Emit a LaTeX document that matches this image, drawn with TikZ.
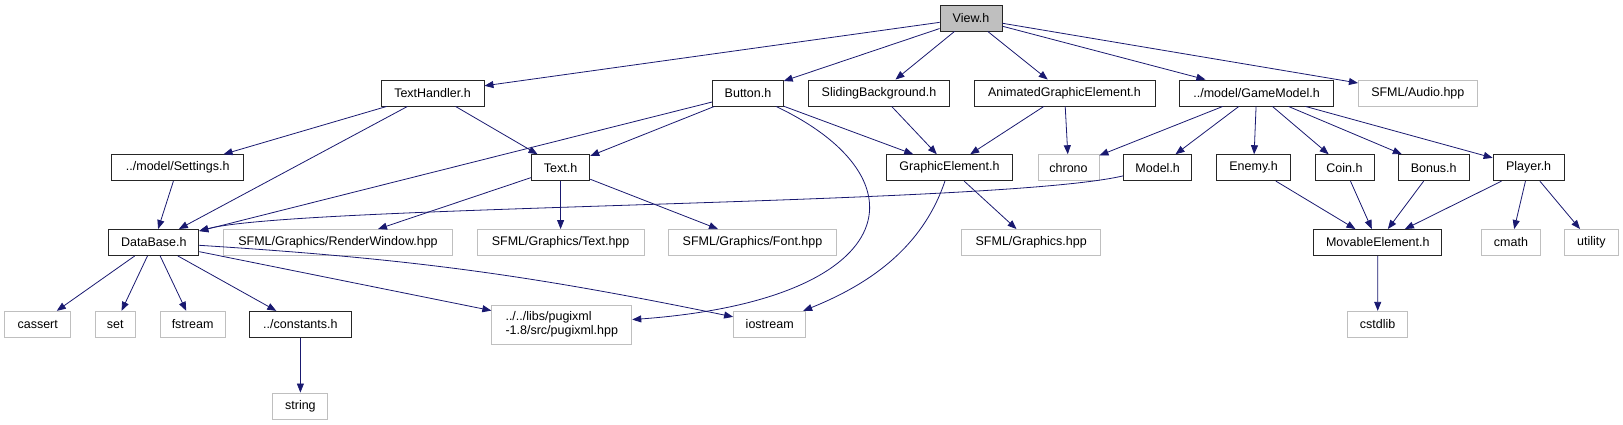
\documentclass[tikz,border=0pt]{standalone}
\usepackage{fontspec}
\setmainfont{Liberation Sans}
\usetikzlibrary{arrows.meta}
\definecolor{edgeblue}{HTML}{191970}
\definecolor{sysgray}{HTML}{BFBFBF}
\begin{document}
\begin{tikzpicture}[x=1pt, y=-1pt,
  box/.style={draw, line width=0.9pt, minimum height=26pt, inner sep=0pt,
    font=\fontsize{12.5}{14}\selectfont},
  hdr/.style={box, draw=black!85},
  sys/.style={box, draw=sysgray},
  dep/.style={draw=edgeblue, line width=0.8pt, -{Triangle[length=9pt, width=7pt]}}]
\useasboundingbox (0,0) rectangle (1623,425);
% Top
\node[hdr, fill=sysgray, minimum width=62pt] (view) at (971,18) {View.h};
% Row 2
\node[hdr, minimum width=103pt] (texthandler) at (432.5,93) {TextHandler.h};
\node[hdr, minimum width=70.5pt] (button) at (748,93) {Button.h};
\node[hdr, minimum width=141.4pt] (sliding) at (879,93) {SlidingBackground.h};
\node[hdr, minimum width=181pt] (animated) at (1064.5,93) {AnimatedGraphicElement.h};
\node[hdr, minimum width=154.4pt] (gamemodel) at (1256.6,93) {../model/GameModel.h};
\node[sys, minimum width=118.8pt] (audio) at (1417.8,93) {SFML/Audio.hpp};
% Row 3
\node[hdr, minimum width=132pt] (settings) at (177.7,167.7) {../model/Settings.h};
\node[hdr, minimum width=58.4pt] (text) at (560.6,167.7) {Text.h};
\node[hdr, minimum width=126.6pt] (graphicel) at (949.5,167.7) {GraphicElement.h};
\node[sys, minimum width=61pt] (chrono) at (1068.5,167.7) {chrono};
\node[hdr, minimum width=68pt] (model) at (1157.7,167.7) {Model.h};
\node[hdr, minimum width=74.5pt] (enemy) at (1253.6,167.7) {Enemy.h};
\node[hdr, minimum width=59pt] (coin) at (1344.5,167.7) {Coin.h};
\node[hdr, minimum width=71pt] (bonus) at (1433.7,167.7) {Bonus.h};
\node[hdr, minimum width=71pt] (player) at (1528.6,167.7) {Player.h};
% Row 4
\node[hdr, minimum width=90pt] (database) at (153.8,242.5) {DataBase.h};
\node[sys, minimum width=229pt] (renderwin) at (338,242.5) {SFML/Graphics/RenderWindow.hpp};
\node[sys, minimum width=167pt] (gtext) at (560.6,242.5) {SFML/Graphics/Text.hpp};
\node[sys, minimum width=167.7pt] (font) at (752.5,242.5) {SFML/Graphics/Font.hpp};
\node[sys, minimum width=139pt] (graphics) at (1031.2,242.5) {SFML/Graphics.hpp};
\node[hdr, minimum width=128pt] (movable) at (1377.8,242.5) {MovableElement.h};
\node[sys, minimum width=59pt] (cmath) at (1511,242.5) {cmath};
\node[sys, minimum width=53.7pt] (utility) at (1591.3,242.5) {utility};
% Row 5
\node[sys, minimum width=65.6pt] (cassert) at (37.7,324.3) {cassert};
\node[sys, minimum width=40pt] (set) at (115.2,324.3) {set};
\node[sys, minimum width=65pt] (fstream) at (192.6,324.3) {fstream};
\node[hdr, minimum width=102.8pt] (constants) at (300.4,324.3) {../constants.h};
\node[sys, minimum width=140pt, minimum height=39pt, align=left] (pugixml) at (561.8,324.7)
  {../../libs/pugixml\\-1.8/src/pugixml.hpp};
\node[sys, minimum width=72.3pt] (iostream) at (769.7,324.3) {iostream};
\node[sys, minimum width=60pt] (cstdlib) at (1377.7,324.3) {cstdlib};
% Row 6
\node[sys, minimum width=55pt] (string) at (300.4,406) {string};
% View.h
\draw[dep] (view) -- (texthandler);
\draw[dep] (view) -- (button);
\draw[dep] (view) -- (sliding);
\draw[dep] (view) -- (animated);
\draw[dep] (view) -- (gamemodel);
\draw[dep] (view) -- (audio);
% TextHandler.h
\draw[dep] (texthandler) -- (settings);
\draw[dep] (texthandler) -- (database);
\draw[dep] (texthandler) -- (text);
% Button.h
\draw[dep] (button) -- (database);
\draw[dep] (button) -- (text);
\draw[dep] (button) -- (graphicel);
\draw[dep] (button) .. controls (930,180) and (900,300) .. (pugixml);
% graphic elements
\draw[dep] (sliding) -- (graphicel);
\draw[dep] (animated) -- (graphicel);
\draw[dep] (animated) -- (chrono);
\draw[dep] (graphicel) .. controls (925,240) and (880,280) .. (iostream);
\draw[dep] (graphicel) -- (graphics);
% GameModel.h
\draw[dep] (gamemodel) -- (chrono);
\draw[dep] (gamemodel) -- (model);
\draw[dep] (gamemodel) -- (enemy);
\draw[dep] (gamemodel) -- (coin);
\draw[dep] (gamemodel) -- (bonus);
\draw[dep] (gamemodel) -- (player);
\draw[dep] (model) .. controls (1000,205) and (300,205) .. (database);
% entities
\draw[dep] (enemy) -- (movable);
\draw[dep] (coin) -- (movable);
\draw[dep] (bonus) -- (movable);
\draw[dep] (player) -- (movable);
\draw[dep] (player) -- (cmath);
\draw[dep] (player) -- (utility);
\draw[dep] (movable) -- (cstdlib);
% Text.h and Settings.h
\draw[dep] (text) -- (renderwin);
\draw[dep] (text) -- (gtext);
\draw[dep] (text) -- (font);
\draw[dep] (settings) -- (database);
% DataBase.h
\draw[dep] (database) -- (cassert);
\draw[dep] (database) -- (set);
\draw[dep] (database) -- (fstream);
\draw[dep] (database) -- (constants);
\draw[dep] (database) -- (pugixml);
\draw[dep] (database) to[bend left=4] (iostream);
\draw[dep] (constants) -- (string);
\end{tikzpicture}
\end{document}
